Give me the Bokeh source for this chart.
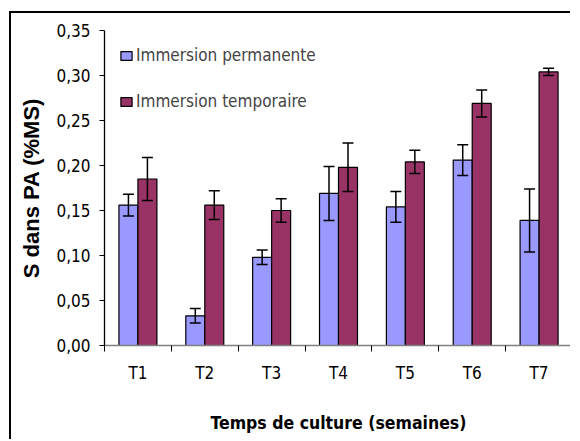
from bokeh.plotting import figure
from bokeh.models import (ColumnDataSource, Range1d, FixedTicker, Whisker, Legend, LegendItem,
                          CustomJSTickFormatter)
from bokeh.transform import dodge
from bokeh.embed import file_html
from bokeh.resources import INLINE

categories = ["T1", "T2", "T3", "T4", "T5", "T6", "T7"]
permanente = [0.156, 0.033, 0.098, 0.169, 0.154, 0.206, 0.139]
permanente_err = [0.012, 0.008, 0.008, 0.030, 0.017, 0.017, 0.035]
temporaire = [0.185, 0.156, 0.150, 0.198, 0.204, 0.269, 0.304]
temporaire_err = [0.024, 0.016, 0.013, 0.027, 0.013, 0.015, 0.004]
y_ticks = [0.0, 0.05, 0.10, 0.15, 0.20, 0.25, 0.30, 0.35]

NARROW = "DejaVu Sans Condensed"

pos = [i + 0.5 for i in range(len(categories))]
src = ColumnDataSource(dict(
    x=pos, perm=permanente, temp=temporaire,
    perm_lo=[v - e for v, e in zip(permanente, permanente_err)],
    perm_hi=[v + e for v, e in zip(permanente, permanente_err)],
    temp_lo=[v - e for v, e in zip(temporaire, temporaire_err)],
    temp_hi=[v + e for v, e in zip(temporaire, temporaire_err)],
))

p = figure(width=561, height=428, output_backend="svg", toolbar_location=None,
           x_range=Range1d(0, len(categories)), y_range=Range1d(0, 0.35),
           min_border_left=93, min_border_right=0, min_border_top=17, min_border_bottom=96)
p.margin = (11, 0, 0, 9)
p.styles = {"border-left": "2px solid black", "border-top": "2px solid black"}
p.outline_line_color = None
p.grid.visible = False
p.background_fill_color = "white"
p.border_fill_color = "white"

off = 0.142
w = 0.284
r1 = p.vbar(x=dodge("x", -off), top="perm", width=w, source=src,
            fill_color="#9999FF", line_color="black", line_width=1.2)
r2 = p.vbar(x=dodge("x", off), top="temp", width=w, source=src,
            fill_color="#993366", line_color="black", line_width=1.2)

for base, lo, hi in [(dodge("x", -off), "perm_lo", "perm_hi"), (dodge("x", off), "temp_lo", "temp_hi")]:
    wk = Whisker(base=base, lower=lo, upper=hi, source=src, line_color="black", line_width=1.5,
                 level="overlay")
    wk.upper_head.size = 11
    wk.lower_head.size = 11
    wk.upper_head.line_width = 1.5
    wk.lower_head.line_width = 1.5
    p.add_layout(wk)

# x axis
xa = p.xaxis[0]
xa.ticker = FixedTicker(ticks=pos, minor_ticks=list(range(len(categories) + 1)))
xa.major_label_overrides = {v: c for v, c in zip(pos, categories)}
xa.major_tick_out = 0
xa.major_tick_in = 0
xa.minor_tick_out = 6
xa.minor_tick_in = 0
xa.minor_tick_line_color = "black"
xa.axis_line_color = "#808080"
xa.axis_line_width = 1.3
xa.major_label_text_font = NARROW
xa.major_label_text_font_size = "17px"
xa.major_label_text_color = "black"
xa.major_label_standoff = 11
xa.axis_label = "Temps de culture (semaines)"
xa.axis_label_text_font = NARROW
xa.axis_label_text_font_style = "bold"
xa.axis_label_text_font_size = "17.5px"
xa.axis_label_text_color = "black"
xa.axis_label_standoff = 27

# y axis
ya = p.yaxis[0]
ya.ticker = FixedTicker(ticks=y_ticks)
ya.formatter = CustomJSTickFormatter(code="return tick.toFixed(2).replace('.', ',');")
ya.major_tick_out = 5
ya.major_tick_in = 0
ya.minor_tick_line_color = None
ya.axis_line_color = "black"
ya.axis_line_width = 1.3
ya.major_label_text_font = NARROW
ya.major_label_text_font_size = "17px"
ya.major_label_text_color = "black"
ya.major_label_standoff = 9
ya.axis_label = "S dans PA (%MS)"
ya.axis_label_text_font = "Liberation Sans"
ya.axis_label_text_font_style = "bold"
ya.axis_label_text_font_size = "22px"
ya.axis_label_text_color = "black"
ya.axis_label_standoff = 9

legend = Legend(items=[LegendItem(label="Immersion permanente", renderers=[r1]),
                       LegendItem(label="Immersion temporaire", renderers=[r2])],
                location=(15, 234), padding=0, margin=0, spacing=26,
                glyph_width=14, glyph_height=11, label_height=20, label_standoff=3,
                border_line_color=None, background_fill_alpha=0,
                label_text_font=NARROW, label_text_font_size="17px")
p.add_layout(legend)

open("out.html", "w").write(file_html(p, INLINE))
